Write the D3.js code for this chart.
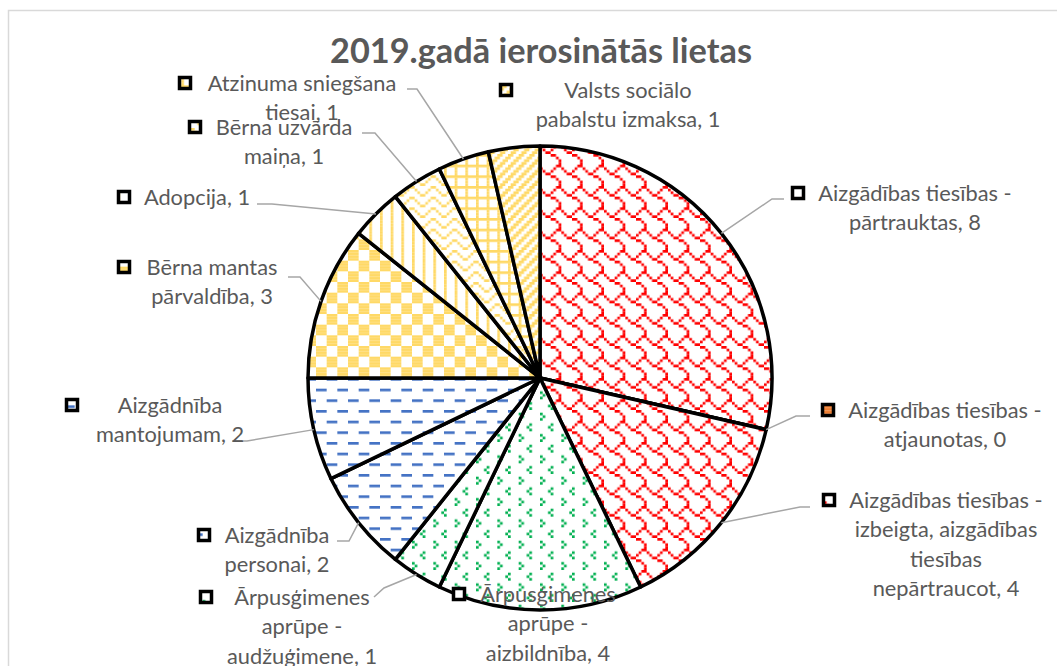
<!DOCTYPE html>
<html>
<head>
<meta charset="utf-8">
<script src="https://cdn.jsdelivr.net/npm/d3@7"></script>
<style>
  body { margin: 0; background: #fff; }
  svg { display: block; font-family: Lato, "Open Sans", sans-serif; }
</style>
</head>
<body>
<script>
// data
const title = "2019.gadā ierosinātās lietas";
const categories = [
  "Aizgādības tiesības - pārtrauktas",
  "Aizgādības tiesības - atjaunotas",
  "Aizgādības tiesības - izbeigta, aizgādības tiesības nepārtraucot",
  "Ārpusģimenes aprūpe - aizbildnība",
  "Ārpusģimenes aprūpe - audžuģimene",
  "Aizgādnība personai",
  "Aizgādnība mantojumam",
  "Bērna mantas pārvaldība",
  "Adopcija",
  "Bērna uzvārda maiņa",
  "Atzinuma sniegšana tiesai",
  "Valsts sociālo pabalstu izmaksa"
];
const values = [8, 0, 4, 4, 1, 2, 2, 3, 1, 1, 1, 1];

// 8x8 fill patterns (like the office ones)
const patterns = [
  { color: "#ff0000", bits: ["00000011","10000100","01001000","00110000","00001100","00000010","00000001","00000001"] },
  { color: "#ed7d31", bits: ["11111111","11111111","11111111","11111111","11111111","11111111","11111111","11111111"] },
  { color: "#ff0000", bits: ["00000011","10000100","01001000","00110000","00001100","00000010","00000001","00000001"] },
  { color: "#00b050", bits: ["00000000","00001000","00010000","00001000","00000000","10000000","01000000","10000000"] },
  { color: "#00b050", bits: ["00000000","00001000","00010000","00001000","00000000","10000000","01000000","10000000"] },
  { color: "#4472c4", bits: ["11110000","00000000","00000000","00000000","00001111","00000000","00000000","00000000"] },
  { color: "#4472c4", bits: ["11110000","00000000","00000000","00000000","00001111","00000000","00000000","00000000"] },
  { color: "#ffd966", bits: ["11110000","11110000","11110000","11110000","00001111","00001111","00001111","00001111"] },
  { color: "#ffd966", bits: ["10001000","10001000","10001000","10001000","10001000","10001000","10001000","10001000"] },
  { color: "#ffd966", bits: ["10000001","01000010","00100100","00011000","10000001","01000010","00100100","00011000"] },
  { color: "#ffd966", bits: ["11111111","10001000","10001000","10001000","11111111","10001000","10001000","10001000"] },
  { color: "#ffd966", bits: ["11001100","10011001","00110011","01100110","11001100","10011001","00110011","01100110"] }
];

// label placement: text centre x, first line y, key x, words per line, leader points
const labelLayout = [
  { x: 915, y: 193, kx: 798, wrap: [3, 2], leader: [[772, 199], [784, 199]] },
  { x: 945, y: 410, kx: 828, wrap: [3, 2], leader: [[796, 416], [810, 416]] },
  { x: 946, y: 500, kx: 829, wrap: [3, 2, 1, 2], leader: [[800, 507], [810, 507]] },
  { x: 548, y: 594, kx: 459, wrap: [1, 2, 2], leader: [] },
  { x: 302, y: 597, kx: 206, wrap: [1, 2, 2], leader: [[384, 588], [374, 597]] },
  { x: 277, y: 535, kx: 204, wrap: [1, 2], leader: [[349, 541], [337, 541]] },
  { x: 170, y: 405, kx: 72, wrap: [1, 2], leader: [[247, 441], [232, 441]] },
  { x: 212, y: 267, kx: 124, wrap: [2, 2], leader: [[300, 277], [288, 277]] },
  { x: 197, y: 197, kx: 124, wrap: [2], leader: [[272, 204], [257, 204]] },
  { x: 284, y: 127, kx: 195, wrap: [2, 2], leader: [[375, 133], [362, 133]] },
  { x: 302, y: 83, kx: 185, wrap: [2, 2], leader: [[417, 89], [407, 89]] },
  { x: 628, y: 90, kx: 506, wrap: [2, 3], leader: [] }
];

const W = 1057, H = 666;
const cx = 540, cy = 378, R = 232;
const s = 8 / 3; // size of one pattern pixel
const lineH = 29.5;

const svg = d3.select("body").append("svg")
  .attr("width", W).attr("height", H);

// pick a font size that gives the width the reference text has
function fitSize(str, target, weight) {
  const t = svg.append("text").attr("font-size", 20).attr("font-weight", weight).text(str);
  const w = t.node().getComputedTextLength();
  t.remove();
  return 20 * target / w;
}
const labelSize = (fitSize("Aizgādības tiesības -", 194, "normal") + fitSize("Adopcija, 1", 106, "normal")) / 2;
const titleSize = fitSize(title, 422, "bold");

const defs = svg.append("defs");
patterns.forEach((p, i) => {
  const pat = defs.append("pattern")
    .attr("id", "pat" + i)
    .attr("patternUnits", "userSpaceOnUse")
    .attr("width", 8 * s).attr("height", 8 * s);
  pat.append("rect").attr("width", 8 * s).attr("height", 8 * s).attr("fill", "#fff");
  p.bits.forEach((row, r) => {
    // merge runs so there are no seams
    let c = 0;
    while (c < 8) {
      if (row[c] === "1") {
        let e = c;
        while (e < 8 && row[e] === "1") e++;
        pat.append("rect")
          .attr("x", c * s).attr("y", r * s)
          .attr("width", (e - c) * s).attr("height", s)
          .attr("fill", p.color);
        c = e;
      } else c++;
    }
  });
});

// chart area border
svg.append("rect")
  .attr("x", 8.5).attr("y", 10.5)
  .attr("width", W + 20).attr("height", H + 20)
  .attr("fill", "none")
  .attr("stroke", "#d9d9d9")
  .attr("stroke-width", 1.5);

svg.append("text")
  .attr("x", 541).attr("y", 63)
  .attr("text-anchor", "middle")
  .attr("font-size", titleSize)
  .attr("font-weight", "bold")
  .attr("fill", "#595959")
  .text(title);

const data = categories.map((c, i) => ({ name: c, value: values[i], i: i }));
const pie = d3.pie().sort(null).value(d => d.value);
const arcs = pie(data);
const arc = d3.arc().innerRadius(0).outerRadius(R);

const g = svg.append("g").attr("transform", `translate(${cx},${cy})`);
g.selectAll("path.slice")
  .data(arcs)
  .enter()
  .append("path")
  .attr("class", "slice")
  .attr("d", arc)
  .attr("fill", d => `url(#pat${d.data.i})`)
  .attr("stroke", "#000")
  .attr("stroke-width", 3.5)
  .attr("stroke-linejoin", "round");

// leader lines
const line = d3.line();
arcs.forEach((d, i) => {
  const L = labelLayout[i];
  if (!L.leader.length) return;
  const a = (d.startAngle + d.endAngle) / 2;
  const p0 = [cx + R * Math.sin(a), cy - R * Math.cos(a)];
  svg.append("path")
    .attr("d", line([p0].concat(L.leader)))
    .attr("fill", "none")
    .attr("stroke", "#a6a6a6")
    .attr("stroke-width", 1.5);
});

// labels
const labels = svg.append("g").attr("font-size", labelSize).attr("fill", "#595959");
data.forEach((d, i) => {
  const L = labelLayout[i];
  const words = (d.name + ", " + d.value).split(" ");
  const lines = [];
  let k = 0;
  L.wrap.forEach(n => { lines.push(words.slice(k, k + n).join(" ")); k += n; });
  const t = labels.append("text").attr("text-anchor", "middle");
  lines.forEach((ln, j) => {
    t.append("tspan")
      .attr("x", L.x)
      .attr("y", L.y + j * lineH)
      .attr("dy", "0.35em")
      .text(ln);
  });
  labels.append("rect")
    .attr("x", L.kx - 5.5).attr("y", L.y - 5.5)
    .attr("width", 11).attr("height", 11)
    .attr("fill", `url(#pat${i})`)
    .attr("stroke", "#000")
    .attr("stroke-width", 3.5);
});
</script>
</body>
</html>
